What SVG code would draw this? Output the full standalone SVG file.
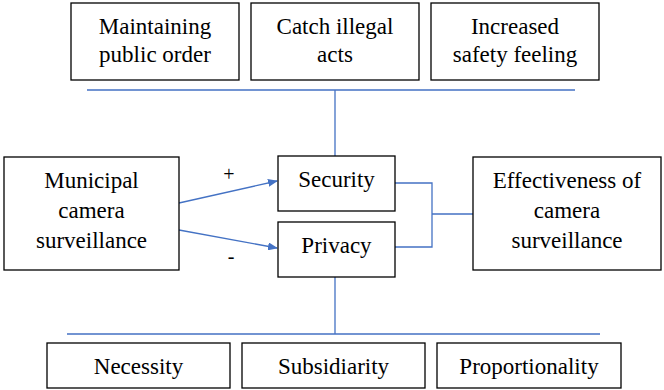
<svg xmlns="http://www.w3.org/2000/svg" width="664" height="390" viewBox="0 0 664 390">
<defs>
<style>
.box{fill:#fff;stroke:#000;stroke-width:1.3}
.c{fill:none;stroke:#4472C4;stroke-width:1.3}
</style>
<marker id="ah" markerWidth="10" markerHeight="8" refX="9" refY="4" orient="auto" markerUnits="userSpaceOnUse">
<path d="M0,0 L10,4 L0,8 Z" fill="#4472C4"/>
</marker>
</defs>
<rect width="664" height="390" fill="#fff"/>
<g font-family="Liberation Serif, Times New Roman, serif" font-size="23" fill="#000" text-anchor="middle">
<g id="connectors">
<path class="c" d="M87,90 H575 M335,90 V157"/>
<path class="c" d="M335,277 V334 M67,334 H600"/>
<path class="c" d="M395,183 H432 V247 H395 M432,214 H473"/>
<line class="c" x1="179" y1="203" x2="277" y2="181" marker-end="url(#ah)"/>
<line class="c" x1="179" y1="230" x2="277" y2="248" marker-end="url(#ah)"/>
<text font-size="20" x="229" y="181">+</text>
<text font-size="20" x="231" y="263">-</text>
</g>
<g id="n1"><rect class="box" x="71" y="3" width="168" height="77"/><text x="155" y="34">Maintaining</text><text x="155" y="62">public order</text></g>
<g id="n2"><rect class="box" x="251" y="3" width="168" height="77"/><text x="335" y="34">Catch illegal</text><text x="335" y="62">acts</text></g>
<g id="n3"><rect class="box" x="431" y="3" width="168" height="77"/><text x="515" y="34">Increased</text><text x="515" y="62">safety feeling</text></g>
<g id="n4"><rect class="box" x="4" y="157" width="175" height="113"/><text x="91.5" y="188">Municipal</text><text x="91.5" y="218">camera</text><text x="91.5" y="248">surveillance</text></g>
<g id="n5"><rect class="box" x="278" y="156" width="117" height="55"/><text x="336.5" y="187">Security</text></g>
<g id="n6"><rect class="box" x="278" y="222" width="117" height="55"/><text x="336.5" y="253">Privacy</text></g>
<g id="n7"><rect class="box" x="473" y="157" width="188" height="113"/><text x="567" y="188">Effectiveness of</text><text x="567" y="218">camera</text><text x="567" y="248">surveillance</text></g>
<g id="n8"><rect class="box" x="47" y="343" width="183" height="45"/><text x="138.5" y="374">Necessity</text></g>
<g id="n9"><rect class="box" x="242" y="343" width="183" height="45"/><text x="333.5" y="374">Subsidiarity</text></g>
<g id="n10"><rect class="box" x="437" y="343" width="184" height="45"/><text x="529" y="374">Proportionality</text></g>
</g>
</svg>
